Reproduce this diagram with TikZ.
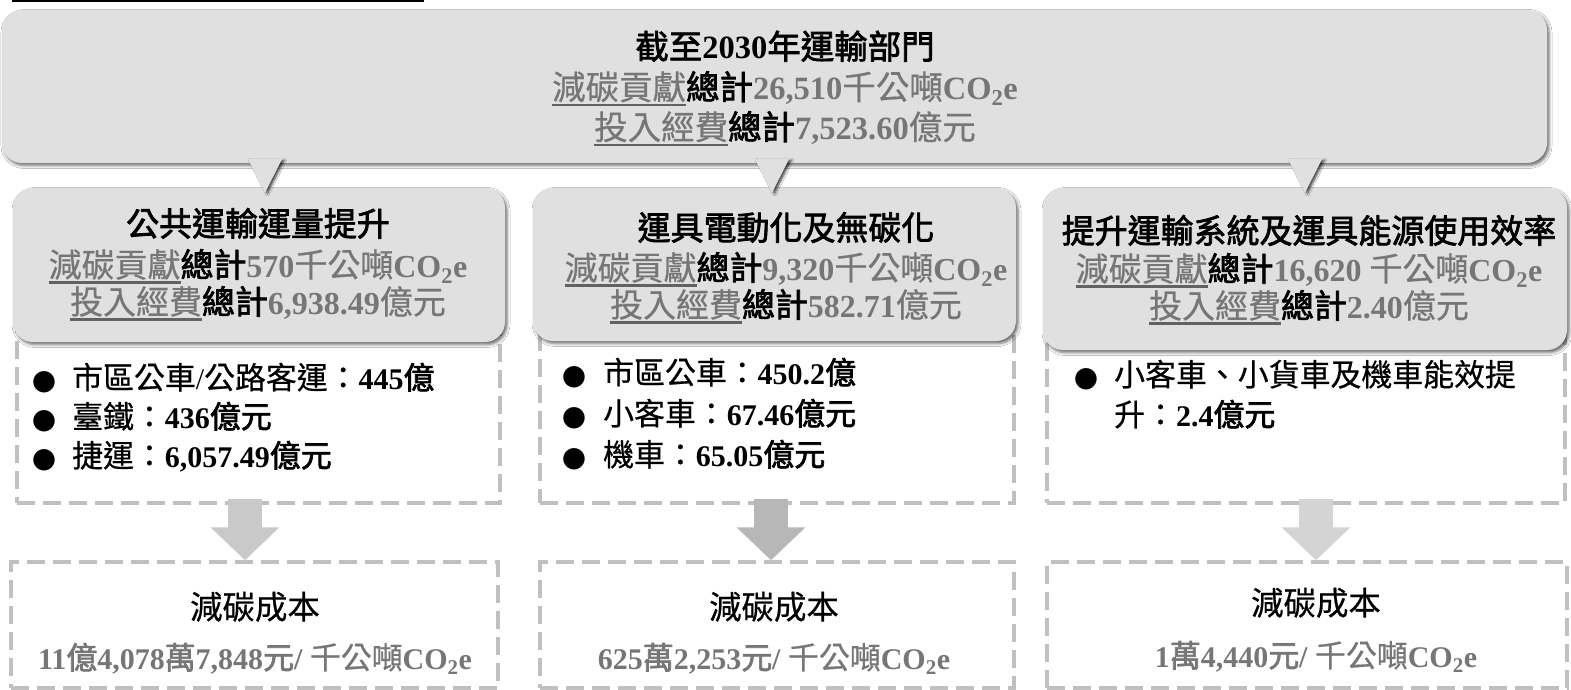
\documentclass[tikz,border=0pt]{standalone}
\usepackage{fontspec}
\setmainfont{Liberation Serif}
\newfontfamily\cjk[Scale=1.03, FakeBold=0.5]{Noto Sans CJK TC}
\newfontfamily\cjkb[Scale=1.03, FakeBold=2.2]{Noto Sans CJK TC}
\newfontfamily\dejavu{DejaVu Sans}
\usetikzlibrary{calc,arrows.meta,shadows.blur}
\definecolor{boxgray}{HTML}{E0E0E0}
\definecolor{txtgray}{HTML}{767676}
\definecolor{ulgray}{HTML}{626262}
\definecolor{dashgray}{HTML}{C0C0C0}
\definecolor{arrL}{HTML}{C9C9C9}
\definecolor{arrM}{HTML}{B7B7B7}
\definecolor{arrR}{HTML}{D4D4D4}
\newcommand\ulx[1]{{\setbox0\hbox{#1}\rlap{\color{ulgray}\rule[-6.5pt]{\wd0}{2.4pt}}\box0}}
\newcommand\coe{{\bfseries CO\textsubscript{2}e}}
\newcommand\cutline[1]{{\cjk\color{txtgray}\ulx{減碳貢獻}}{\cjkb 總計}{\color{txtgray}\bfseries #1}{\cjk\color{txtgray}千公噸}{\color{txtgray}\coe}}
\newcommand\fundline[1]{{\cjk\color{txtgray}\ulx{投入經費}}{\cjkb 總計}{\color{txtgray}\bfseries #1}{\cjk\color{txtgray}億元}}
\tikzset{
  graybox/.style={fill=boxgray, rounded corners=20pt, inner sep=0pt,
    blur shadow={shadow xshift=2pt, shadow yshift=-2.5pt, shadow blur radius=3pt, shadow opacity=60}},
  pointer/.style={fill=boxgray,
    blur shadow={shadow xshift=2.5pt, shadow yshift=-1pt, shadow blur radius=2pt, shadow opacity=70}},
  dashbox/.style={draw=dashgray, line width=3.5pt, dash pattern=on 18pt off 8pt, inner sep=0pt},
  blockarr/.style={line width=34pt, -{Triangle[length=33pt,width=67pt]}},
  txt/.style={anchor=base, inner sep=0pt},
  ltxt/.style={anchor=base west, inner sep=0pt},
  fTop/.style={font=\fontsize{32.5}{40}\selectfont},
  fMid/.style={font=\fontsize{32}{40}\selectfont},
  fList/.style={font=\fontsize{30}{38}\selectfont},
  fBot/.style={font=\fontsize{30}{38}\selectfont},
  fBotT/.style={font=\fontsize{31.5}{38}\selectfont},
  bul/.style={anchor=base, inner sep=0pt, font=\dejavu\fontsize{28}{30}\selectfont},
}
\begin{document}
\begin{tikzpicture}[x=1pt,y=-1pt]
\useasboundingbox (0,0) rectangle (1571,690);
\clip (0,0) rectangle (1571,690);
\fill[white] (0,0) rectangle (1571,690);
% heading underline remnant
\fill[black] (12,0) rectangle (424,2.5);

% dashed list boxes
\node[dashbox, minimum width=483pt, minimum height=183pt] (d1) at (258.5,411.5) {};
\node[dashbox, minimum width=474pt, minimum height=183pt] (d2) at (777,411.5) {};
\node[dashbox, minimum width=518pt, minimum height=173pt] (d3) at (1306,416.5) {};

% category boxes
\node[graybox, minimum width=492pt, minimum height=154pt] (s1) at (259,265) {};
\node[graybox, minimum width=483pt, minimum height=153pt] (s2) at (774.5,264.5) {};
\node[graybox, minimum width=524pt, minimum height=162pt] (s3) at (1305,269) {};

% top box
\node[graybox, minimum width=1545pt, minimum height=153pt] (top) at (774.5,86.5) {};

% pointers
\coordinate (pL) at (265,0);
\coordinate (pM) at (772,0);
\coordinate (pR) at (1305,0);
\foreach \p/\s in {pL/s1,pM/s2,pR/s3}{
  \path[pointer] ($(\p |- top.south)+(-17,-4)$) -- ($(\p |- top.south)+(17,-4)$) -- ($(\p |- \s.north)+(0,5)$) -- cycle;
}

% top text
\node[txt, fTop] (t1) at (785,59) {{\cjkb 截至}{\bfseries 2030}{\cjkb 年運輸部門}};
\node[txt, fTop] (t2) at (785,99.5) {\cutline{26,510}};
\node[txt, fTop] (t3) at (785,139.5) {\fundline{7,523.60}};

% category texts
\node[txt, fMid] (s1a) at (258,236) {\cjkb 公共運輸運量提升};
\node[txt, fMid] (s1b) at (258,277) {\cutline{570}};
\node[txt, fMid] (s1c) at (258,314) {\fundline{6,938.49}};

\node[txt, fMid] (s2a) at (786,240) {\cjkb 運具電動化及無碳化};
\node[txt, fMid] (s2b) at (786,280) {\cutline{9,320}};
\node[txt, fMid] (s2c) at (786,317) {\fundline{582.71}};

\node[txt, fMid] (s3a) at (1309,243) {\cjkb 提升運輸系統及運具能源使用效率};
\node[txt, fMid] (s3b) at (1309,281) {\cutline{16,620\ }};
\node[txt, fMid] (s3c) at (1309,318) {\fundline{2.40}};

% bullet lists
\node[bul] (k11) at (44,389) {●};
\node[ltxt, fList] (l11) at (72,389) {{\cjk 市區公車}/{\cjk 公路客運：}{\bfseries 445}{\cjkb 億}};
\node[bul] (k12) at (44,428) {●};
\node[ltxt, fList] (l12) at (72,428) {{\cjk 臺鐵：}{\bfseries 436}{\cjkb 億元}};
\node[bul] (k13) at (44,467) {●};
\node[ltxt, fList] (l13) at (72,467) {{\cjk 捷運：}{\bfseries 6,057.49}{\cjkb 億元}};

\node[bul] (k21) at (574,384) {●};
\node[ltxt, fList] (l21) at (603,384) {{\cjk 市區公車：}{\bfseries 450.2}{\cjkb 億}};
\node[bul] (k22) at (574,425) {●};
\node[ltxt, fList] (l22) at (603,425) {{\cjk 小客車：}{\bfseries 67.46}{\cjkb 億元}};
\node[bul] (k23) at (574,466) {●};
\node[ltxt, fList] (l23) at (603,466) {{\cjk 機車：}{\bfseries 65.05}{\cjkb 億元}};

\node[bul] (k31) at (1086,386) {●};
\node[ltxt, fList] (l31) at (1114,386) {\cjk 小客車、小貨車及機車能效提};
\node[ltxt, fList] (l32) at (1114,426) {{\cjk 升：}{\bfseries 2.4}{\cjkb 億元}};

% bottom boxes
\node[dashbox, minimum width=487pt, minimum height=126pt] (b1) at (254.5,625) {};
\node[dashbox, minimum width=474pt, minimum height=126pt] (b2) at (777,625) {};
\node[dashbox, minimum width=520pt, minimum height=126pt] (b3) at (1307,625) {};

% block arrows
\coordinate (aL) at (245,0);
\coordinate (aM) at (771,0);
\coordinate (aR) at (1316,0);
\draw[blockarr, draw=arrL] ($(aL |- d1.south)+(0,-6)$) -- (aL |- b1.north);
\draw[blockarr, draw=arrM] ($(aM |- d2.south)+(0,-6)$) -- (aM |- b2.north);
\draw[blockarr, draw=arrR] ($(aR |- d3.south)+(0,-6)$) -- (aR |- b3.north);

% bottom texts
\node[txt, fBotT] (c1a) at (255,619) {\cjk 減碳成本};
\node[txt, fBot] (c1b) at (255,669) {\color{txtgray}{\bfseries 11}{\cjkb 億}{\bfseries 4,078}{\cjkb 萬}{\bfseries 7,848}{\cjkb 元}{\bfseries /\ }{\cjk 千公噸}\coe};
\node[txt, fBotT] (c2a) at (774,619) {\cjk 減碳成本};
\node[txt, fBot] (c2b) at (774,669) {\color{txtgray}{\bfseries 625}{\cjkb 萬}{\bfseries 2,253}{\cjkb 元}{\bfseries /\ }{\cjk 千公噸}\coe};
\node[txt, fBotT] (c3a) at (1316,615) {\cjk 減碳成本};
\node[txt, fBot] (c3b) at (1316,667) {\color{txtgray}{\bfseries 1}{\cjkb 萬}{\bfseries 4,440}{\cjkb 元}{\bfseries /\ }{\cjk 千公噸}\coe};
\end{tikzpicture}
\end{document}
